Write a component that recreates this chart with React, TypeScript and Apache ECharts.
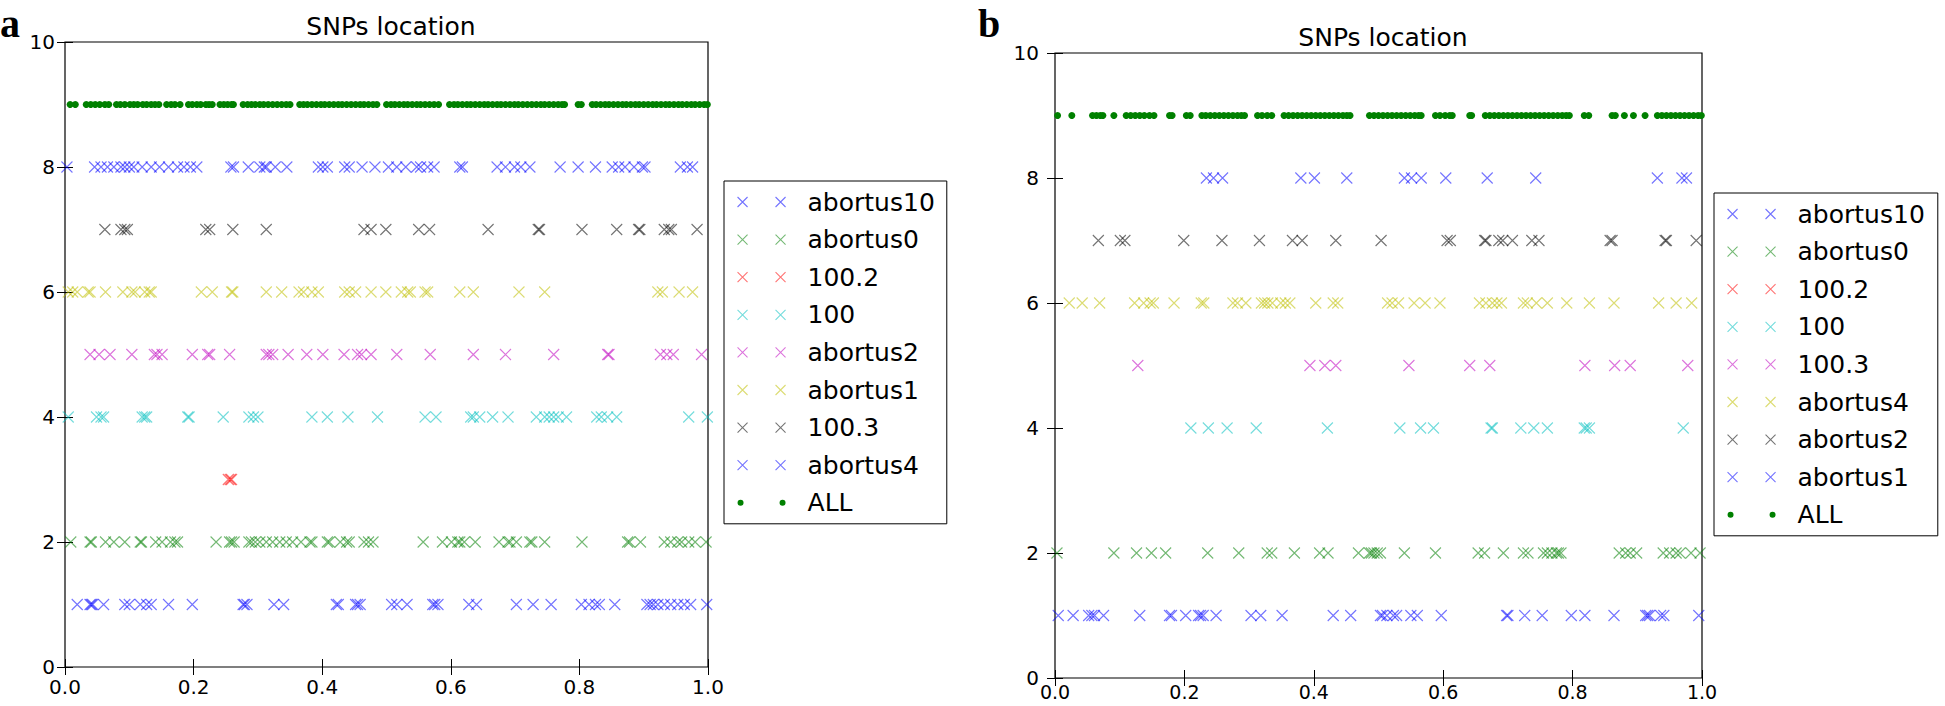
import React, { useEffect, useRef } from "react";
import * as echarts from "echarts";

// ---------- shared axis data ----------
const xTickValues = [0, 0.2, 0.4, 0.6, 0.8, 1.0];
const yTickValues = [0, 2, 4, 6, 8, 10];
const titleText = "SNPs location";

// ---------- panel a ----------
const namesA = ["abortus10", "abortus0", "100.2", "100", "abortus2", "abortus1", "100.3", "abortus4", "ALL"];
const levelsA = [1, 2, 3, 4, 5, 6, 7, 8, 9];
const a_abortus10 = [0.019, 0.039, 0.041, 0.043, 0.060, 0.093, 0.100, 0.117, 0.127, 0.134, 0.161, 0.198, 0.277, 0.279, 0.283, 0.325, 0.340, 0.422, 0.425, 0.452, 0.455, 0.459, 0.508, 0.516, 0.532, 0.572, 0.575, 0.580, 0.628, 0.640, 0.702, 0.728, 0.756, 0.803, 0.815, 0.825, 0.831, 0.855, 0.905, 0.910, 0.915, 0.922, 0.932, 0.942, 0.953, 0.963, 0.973, 0.998];
const a_abortus0 = [0.009, 0.039, 0.041, 0.063, 0.076, 0.093, 0.117, 0.119, 0.141, 0.151, 0.164, 0.171, 0.175, 0.235, 0.256, 0.259, 0.263, 0.286, 0.290, 0.296, 0.303, 0.313, 0.323, 0.334, 0.344, 0.354, 0.367, 0.381, 0.384, 0.408, 0.411, 0.428, 0.438, 0.442, 0.465, 0.472, 0.479, 0.557, 0.587, 0.601, 0.611, 0.614, 0.621, 0.638, 0.675, 0.689, 0.692, 0.702, 0.723, 0.726, 0.746, 0.804, 0.875, 0.878, 0.895, 0.932, 0.942, 0.953, 0.959, 0.970, 0.980, 0.997];
const a_100_2 = [0.254, 0.257, 0.259];
const a_100 = [0.005, 0.049, 0.056, 0.060, 0.120, 0.124, 0.127, 0.191, 0.193, 0.246, 0.286, 0.293, 0.300, 0.384, 0.408, 0.440, 0.486, 0.560, 0.577, 0.631, 0.635, 0.645, 0.665, 0.689, 0.733, 0.746, 0.753, 0.760, 0.767, 0.780, 0.827, 0.834, 0.844, 0.858, 0.970, 0.999];
const a_abortus2 = [0.039, 0.053, 0.070, 0.104, 0.139, 0.143, 0.151, 0.198, 0.222, 0.225, 0.256, 0.313, 0.317, 0.323, 0.347, 0.376, 0.401, 0.434, 0.455, 0.461, 0.476, 0.516, 0.568, 0.635, 0.685, 0.760, 0.844, 0.846, 0.926, 0.936, 0.946, 0.990];
const a_abortus1 = [0.005, 0.012, 0.019, 0.036, 0.039, 0.063, 0.090, 0.104, 0.109, 0.124, 0.131, 0.134, 0.212, 0.229, 0.259, 0.261, 0.313, 0.337, 0.364, 0.371, 0.384, 0.394, 0.435, 0.442, 0.452, 0.476, 0.499, 0.523, 0.533, 0.537, 0.560, 0.564, 0.614, 0.635, 0.706, 0.746, 0.922, 0.929, 0.955, 0.976];
const a_100_3 = [0.062, 0.087, 0.093, 0.097, 0.219, 0.225, 0.261, 0.313, 0.465, 0.476, 0.499, 0.550, 0.567, 0.658, 0.736, 0.738, 0.804, 0.858, 0.892, 0.894, 0.932, 0.939, 0.943, 0.983];
const a_abortus4 = [0.003, 0.046, 0.056, 0.066, 0.076, 0.087, 0.093, 0.100, 0.107, 0.120, 0.134, 0.147, 0.161, 0.175, 0.185, 0.195, 0.205, 0.258, 0.262, 0.285, 0.303, 0.310, 0.313, 0.327, 0.345, 0.394, 0.401, 0.408, 0.435, 0.442, 0.462, 0.482, 0.503, 0.516, 0.530, 0.547, 0.553, 0.564, 0.574, 0.614, 0.618, 0.672, 0.685, 0.699, 0.709, 0.723, 0.770, 0.798, 0.825, 0.851, 0.861, 0.871, 0.885, 0.898, 0.902, 0.957, 0.968, 0.976];
const a_ALL = [0.008, 0.016, 0.033, 0.040, 0.047, 0.054, 0.062, 0.068, 0.080, 0.086, 0.093, 0.101, 0.107, 0.113, 0.121, 0.127, 0.134, 0.140, 0.146, 0.158, 0.165, 0.171, 0.179, 0.192, 0.198, 0.205, 0.211, 0.219, 0.224, 0.229, 0.241, 0.247, 0.253, 0.259, 0.262, 0.277, 0.284, 0.290, 0.296, 0.303, 0.309, 0.316, 0.323, 0.330, 0.337, 0.344, 0.350, 0.365, 0.371, 0.377, 0.384, 0.391, 0.398, 0.404, 0.411, 0.418, 0.425, 0.431, 0.438, 0.445, 0.452, 0.459, 0.465, 0.472, 0.479, 0.485, 0.500, 0.507, 0.513, 0.520, 0.527, 0.533, 0.540, 0.547, 0.553, 0.560, 0.567, 0.574, 0.581, 0.598, 0.605, 0.611, 0.618, 0.625, 0.631, 0.638, 0.645, 0.652, 0.658, 0.665, 0.672, 0.678, 0.685, 0.692, 0.699, 0.705, 0.712, 0.719, 0.726, 0.733, 0.740, 0.746, 0.753, 0.760, 0.767, 0.773, 0.777, 0.798, 0.803, 0.820, 0.826, 0.833, 0.840, 0.846, 0.853, 0.860, 0.867, 0.873, 0.880, 0.887, 0.893, 0.900, 0.907, 0.914, 0.920, 0.927, 0.934, 0.940, 0.947, 0.954, 0.960, 0.967, 0.974, 0.980, 0.987, 0.994, 0.999];
const valuesA = [a_abortus10, a_abortus0, a_100_2, a_100, a_abortus2, a_abortus1, a_100_3, a_abortus4, a_ALL];

// ---------- panel b ----------
const namesB = ["abortus10", "abortus0", "100.2", "100", "100.3", "abortus4", "abortus2", "abortus1", "ALL"];
const levelsB = [1, 2, 3, 4, 5, 6, 7, 8, 9];
const b_abortus10 = [0.005, 0.028, 0.052, 0.057, 0.061, 0.075, 0.131, 0.177, 0.180, 0.202, 0.222, 0.225, 0.229, 0.249, 0.303, 0.318, 0.351, 0.430, 0.457, 0.503, 0.506, 0.513, 0.523, 0.528, 0.550, 0.560, 0.597, 0.698, 0.700, 0.726, 0.753, 0.798, 0.819, 0.864, 0.913, 0.916, 0.919, 0.936, 0.941, 0.995];
const b_abortus0 = [0.003, 0.091, 0.126, 0.149, 0.171, 0.236, 0.284, 0.328, 0.335, 0.370, 0.409, 0.422, 0.469, 0.486, 0.489, 0.493, 0.498, 0.503, 0.540, 0.588, 0.654, 0.664, 0.693, 0.724, 0.731, 0.755, 0.761, 0.768, 0.775, 0.778, 0.782, 0.872, 0.882, 0.889, 0.899, 0.940, 0.950, 0.960, 0.966, 0.983, 0.997];
const b_100_2: number[] = [];
const b_100 = [0.210, 0.237, 0.266, 0.311, 0.421, 0.533, 0.565, 0.585, 0.674, 0.676, 0.720, 0.740, 0.761, 0.818, 0.821, 0.826, 0.971];
const b_100_3 = [0.128, 0.394, 0.417, 0.434, 0.547, 0.641, 0.672, 0.819, 0.865, 0.889, 0.978];
const b_abortus4 = [0.022, 0.042, 0.069, 0.123, 0.137, 0.147, 0.152, 0.184, 0.226, 0.230, 0.275, 0.282, 0.295, 0.319, 0.324, 0.329, 0.336, 0.349, 0.356, 0.363, 0.403, 0.430, 0.437, 0.514, 0.521, 0.531, 0.555, 0.572, 0.595, 0.656, 0.666, 0.676, 0.683, 0.690, 0.724, 0.730, 0.744, 0.761, 0.791, 0.826, 0.864, 0.933, 0.960, 0.984];
const b_abortus2 = [0.067, 0.101, 0.108, 0.199, 0.258, 0.316, 0.367, 0.382, 0.434, 0.504, 0.606, 0.611, 0.664, 0.666, 0.686, 0.692, 0.707, 0.737, 0.748, 0.858, 0.861, 0.943, 0.945, 0.991];
const b_abortus1 = [0.234, 0.245, 0.259, 0.380, 0.401, 0.451, 0.540, 0.551, 0.566, 0.604, 0.668, 0.743, 0.931, 0.969, 0.976];
const b_ALL = [0.004, 0.026, 0.058, 0.064, 0.070, 0.074, 0.091, 0.110, 0.117, 0.124, 0.131, 0.138, 0.146, 0.153, 0.177, 0.181, 0.203, 0.209, 0.227, 0.233, 0.240, 0.247, 0.254, 0.261, 0.268, 0.275, 0.282, 0.288, 0.293, 0.313, 0.320, 0.328, 0.335, 0.354, 0.361, 0.368, 0.375, 0.382, 0.389, 0.396, 0.403, 0.410, 0.417, 0.424, 0.431, 0.438, 0.445, 0.451, 0.456, 0.486, 0.493, 0.500, 0.507, 0.514, 0.521, 0.528, 0.535, 0.542, 0.549, 0.556, 0.562, 0.566, 0.588, 0.595, 0.603, 0.610, 0.614, 0.641, 0.644, 0.665, 0.672, 0.679, 0.686, 0.693, 0.700, 0.707, 0.714, 0.721, 0.728, 0.735, 0.742, 0.749, 0.756, 0.763, 0.770, 0.777, 0.784, 0.790, 0.795, 0.818, 0.825, 0.861, 0.866, 0.880, 0.894, 0.912, 0.931, 0.938, 0.945, 0.952, 0.959, 0.966, 0.973, 0.980, 0.987, 0.994, 0.999];
const valuesB = [b_abortus10, b_abortus0, b_100_2, b_100, b_100_3, b_abortus4, b_abortus2, b_abortus1, b_ALL];

// ---------- styles ----------
const CYCLE = ["#0000ff", "#008000", "#ff0000", "#00bfbf", "#bf00bf", "#bfbf00", "#000000", "#0000ff"];
const ALL_COLOR = "#008000";
const FONT = "DejaVu Sans";
const CROSS = "path://M0,0L10,10M10,0L0,10";
const CROSS2 = "path://M0,0L10,10M10,0L0,10M38,0L48,10M48,0L38,10";
const DOT2 = "path://M0,3A3,3,0,1,1,6,3A3,3,0,1,1,0,3ZM42,3A3,3,0,1,1,48,3A3,3,0,1,1,42,3Z";

const GRIDS = [
  { left: 65, top: 42, width: 643, height: 625 },
  { left: 1055, top: 53, width: 647, height: 625 },
];
const X_LABEL_MARGIN = [9, 3];
const X_LABEL_SIZE = [20, 19];
const Y_LABEL_MARGIN = [10, 16];

function buildPanel(gi: number, prefix: string, names: string[], levels: number[], values: number[][]) {
  const series: any[] = [];
  const legendData: any[] = [];
  names.forEach((n, i) => {
    const isAll = n === "ALL";
    const color = isAll ? ALL_COLOR : CYCLE[i % CYCLE.length];
    series.push({
      type: "scatter",
      name: prefix + n,
      xAxisIndex: gi * 2,
      yAxisIndex: gi * 2,
      data: values[i].map((x) => [x, levels[i]]),
      symbol: isAll ? "circle" : CROSS,
      symbolSize: isAll ? 7 : 11,
      silent: true,
      clip: false,
      itemStyle: isAll
        ? { color, opacity: 1 }
        : { color, borderColor: color, borderWidth: 1.1, opacity: 0.55 },
      z: isAll ? 3 : 2,
    });
    legendData.push({
      name: prefix + n,
      icon: isAll ? DOT2 : CROSS2,
      itemStyle: isAll
        ? { color, borderWidth: 0, opacity: 1 }
        : { color, borderColor: color, borderWidth: 1.1, opacity: 0.55 },
    });
  });
  return { series, legendData };
}

export default function App() {
  const ref = useRef<HTMLDivElement>(null);
  useEffect(() => {
    document.body.style.margin = "0";
    document.body.style.overflow = "hidden";
    const chart = echarts.init(ref.current!, null, { renderer: "svg" });
    const pa = buildPanel(0, "a:", namesA, levelsA, valuesA);
    const pb = buildPanel(1, "b:", namesB, levelsB, valuesB);

    const xAxes: any[] = [];
    const yAxes: any[] = [];
    [0, 1].forEach((gi) => {
      const tick = { show: true, inside: true, length: 8, lineStyle: { color: "#000", width: 1 } };
      xAxes.push({
        gridIndex: gi, type: "value", min: xTickValues[0], max: xTickValues[xTickValues.length - 1], interval: 0.2,
        position: "bottom", axisLine: { show: false }, axisTick: tick, splitLine: { show: false },
        axisLabel: { formatter: (v: number) => v.toFixed(1), fontSize: X_LABEL_SIZE[gi], lineHeight: 22, color: "#000", fontFamily: FONT, margin: X_LABEL_MARGIN[gi] },
      });
      xAxes.push({
        gridIndex: gi, type: "value", min: 0, max: 1, interval: 0.2,
        position: "top", axisLine: { show: false }, axisTick: tick, splitLine: { show: false }, axisLabel: { show: false },
      });
      yAxes.push({
        gridIndex: gi, type: "value", min: yTickValues[0], max: yTickValues[yTickValues.length - 1], interval: 2,
        position: "left", axisLine: { show: false }, axisTick: tick, splitLine: { show: false },
        axisLabel: { fontSize: 20, color: "#000", fontFamily: FONT, margin: Y_LABEL_MARGIN[gi] },
      });
      yAxes.push({
        gridIndex: gi, type: "value", min: 0, max: 10, interval: 2,
        position: "right", axisLine: { show: false }, axisTick: tick, splitLine: { show: false }, axisLabel: { show: false },
      });
    });

    const legendBase = {
      orient: "vertical",
      itemWidth: 48,
      itemHeight: 10,
      itemGap: 9.6,
      selectedMode: false,
      formatter: (n: string) => n.slice(2),
      textStyle: { fontSize: 25, fontFamily: FONT, color: "#000", lineHeight: 28, padding: [0, 0, 0, 17] },
      borderColor: "#000",
      borderWidth: 1,
      backgroundColor: "#fff",
    };

    const titleStyle = { fontSize: 25, fontWeight: "normal", color: "#000", fontFamily: FONT };
    const letterStyle = { fontSize: 40, fontWeight: "bold", color: "#000", fontFamily: "Liberation Serif", lineHeight: 40 };

    chart.setOption({
      animation: false,
      textStyle: { fontFamily: FONT },
      title: [
        { text: titleText, left: 386, top: 9, textAlign: "center", textStyle: titleStyle },
        { text: titleText, left: 1378, top: 20, textAlign: "center", textStyle: titleStyle },
        { text: "a", left: 0, top: 3, padding: 0, textStyle: letterStyle },
        { text: "b", left: 978, top: 3, padding: 0, textStyle: letterStyle },
      ],
      grid: GRIDS.map((g) => ({ ...g, show: true, borderColor: "#000", borderWidth: 1.2, containLabel: false })),
      xAxis: xAxes,
      yAxis: yAxes,
      legend: [
        { ...legendBase, left: 724, top: 181, padding: [7, 12, 7, 13], data: pa.legendData },
        { ...legendBase, left: 1714, top: 193, padding: [7, 13, 7, 13], data: pb.legendData },
      ],
      series: [...pa.series, ...pb.series],
    });
    return () => chart.dispose();
  }, []);
  return <div ref={ref} style={{ width: 1945, height: 706 }} />;
}
